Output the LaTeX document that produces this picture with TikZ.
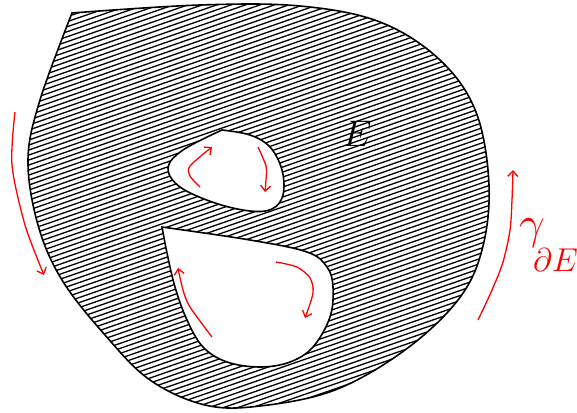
\RequirePackage{fix-cm}
\documentclass[tikz,border=0pt]{standalone}
\usetikzlibrary{arrows.meta}
\definecolor{FlowRed}{HTML}{FF0000}
\definecolor{RimBlack}{HTML}{000000}
\begin{document}
\begin{tikzpicture}[x=1pt,y=-1pt,>={Straight Barb[length=5.5pt,width=10pt]},
  rim/.style={draw=RimBlack,line width=1.6pt},
  hatch/.style={path picture={\foreach \c in {0,5,...,640}{\draw[RimBlack,line width=1.3pt] (0,\c)--(577,\c-200);}}},
  flow/.style={FlowRed,line width=1.3pt,->},
  lbl/.style={inner sep=0pt,font=\fontsize{37}{40}\selectfont}]
\useasboundingbox (0,0) rectangle (577,412);
% region E with its two holes
\draw[rim,hatch] plot[smooth,tension=.6] coordinates{(72,13) (200,5) (300,6) (380,22) (440,60) (476,112) (489,185) (482,250) (458,300) (405,350) (335,390) (260,406) (205,405) (150,380) (105,335) (62,280) (38,225) (28,160) (40,100) (72,13)} -- cycle;
\draw[rim,fill=white] plot[smooth,tension=.6] coordinates{(222,130) (250,135) (270,147) (282,170) (283,195) (272,209) (250,211) (215,203) (180,187) (168,168) (183,150) (222,130)} -- cycle;
\draw[rim,fill=white] plot[smooth,tension=.6] coordinates{(162,227) (250,240) (307,252) (327,267) (333,287) (330,317) (313,347) (290,362) (260,367) (227,362) (203,347) (187,320) (175,287) (167,253) (162,227)} -- cycle;
% orientation of the boundary
\draw[flow] plot[smooth] coordinates{(15,112) (12,165) (25,225) (44,275)};
\draw[flow] plot[smooth] coordinates{(478,320) (492,290) (503,262) (510,230) (512,200) (513,170)};
\draw[flow] plot[smooth,tension=.5] coordinates{(200,187) (190,176) (190,166) (212,147)};
\draw[flow] plot[smooth] coordinates{(258,147) (266,166) (266,180) (265,192)};
\draw[flow] plot[smooth] coordinates{(212,337) (190,307) (183,290) (178,268)};
\draw[flow] plot[smooth] coordinates{(276,262) (297,267) (310,278) (313,293) (305,318)};
\node[lbl] (setE) at (357,134) {$E$};
\node[lbl,anchor=base west,text=FlowRed,font=\fontsize{46}{50}\selectfont] (gam) at (519,238) {$\gamma$};
\node[lbl,anchor=base west,text=FlowRed,font=\fontsize{33}{36}\selectfont] (bdE) at (533,271) {$\partial E$};
\end{tikzpicture}
\end{document}
